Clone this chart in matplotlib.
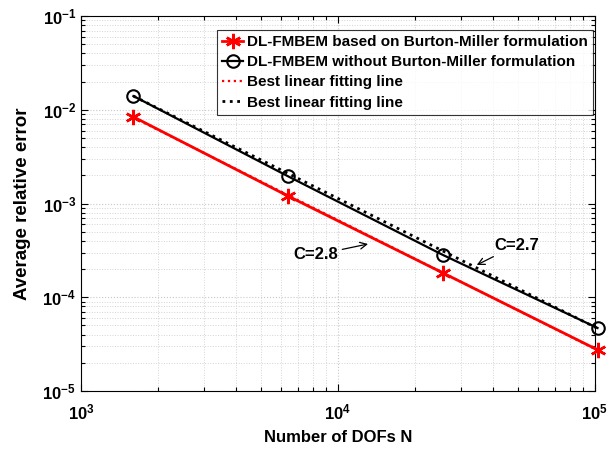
import numpy as np
import matplotlib
matplotlib.use("Agg")
import matplotlib.pyplot as plt
from matplotlib.ticker import LogLocator, NullFormatter

plt.rcParams['font.family'] = ['Liberation Sans', 'DejaVu Sans']
plt.rcParams['font.weight'] = 'bold'
plt.rcParams['mathtext.default'] = 'bf'

# Degrees of freedom and average relative errors
dofs = [1600, 6400, 25600, 102400]
err_bm = [8.4e-3, 1.2e-3, 1.82e-4, 2.75e-5]
err_no_bm = [1.40e-2, 1.95e-3, 2.83e-4, 4.7e-5]

label_bm = "DL-FMBEM based on Burton-Miller formulation"
label_no_bm = "DL-FMBEM without Burton-Miller formulation"
label_fit = "Best linear fitting line"

fig = plt.figure(figsize=(6.07, 4.51), dpi=100)
ax = fig.add_axes([0.1334, 0.133, 0.8466, 0.8315])

ax.set_xscale('log')
ax.set_yscale('log')
ax.set_xlim(1e3, 1e5)
ax.set_ylim(1e-5, 1e-1)

x = np.array(dofs, dtype=float)


def loglog_fit(xv, yv):
    p = np.polyfit(np.log10(xv), np.log10(yv), 1)
    return 10 ** np.polyval(p, np.log10(xv))


asterisk = (6, 2, 0)
ax.plot(dofs, err_bm, color='red', lw=2.0, marker=asterisk, ms=11, mew=1.8,
        label=label_bm, zorder=3, clip_on=False)
ax.plot(dofs, err_no_bm, color='black', lw=1.6, marker='o', ms=9,
        mfc='none', mew=1.5, label=label_no_bm, zorder=3, clip_on=False)
ax.plot(dofs, loglog_fit(x, err_bm), color='red', lw=1.6, ls=':',
        label=label_fit, zorder=4, clip_on=False)
ax.plot(dofs, loglog_fit(x, err_no_bm) * 1.04, color='black', lw=2.0,
        ls=':', label=label_fit, zorder=4, clip_on=False)

# Grid
ax.grid(True, which='major', color='#c8c8c8', ls=':', lw=0.8)
ax.grid(True, which='minor', color='#d4d4d4', ls=':', lw=0.7)
ax.set_axisbelow(True)

ax.xaxis.set_minor_locator(LogLocator(base=10, subs=np.arange(2, 10), numticks=20))
ax.yaxis.set_minor_locator(LogLocator(base=10, subs=np.arange(2, 10), numticks=20))
ax.xaxis.set_minor_formatter(NullFormatter())
ax.yaxis.set_minor_formatter(NullFormatter())
ax.tick_params(which='both', direction='in', top=True, right=True,
               labelsize=12, width=0.8)
ax.tick_params(which='major', length=5)
ax.tick_params(which='minor', length=3)
ax.tick_params(axis='x', pad=8)
for sp in ax.spines.values():
    sp.set_linewidth(0.8)

ax.set_xlabel("Number of DOFs N", fontsize=12, fontweight='bold', labelpad=6)
ax.set_ylabel("Average relative error", fontsize=13.5, fontweight='bold', labelpad=8)

# Convergence rate annotations
ax.annotate("C=2.8", xy=(1.31e4, 3.7e-4), xytext=(8.2e3, 2.83e-4),
            fontsize=12, fontweight='bold', ha='center', va='center',
            arrowprops=dict(arrowstyle='->', lw=0.9, color='black',
                            shrinkA=1, shrinkB=0))
ax.annotate("C=2.7", xy=(3.47e4, 2.21e-4), xytext=(4.95e4, 3.6e-4),
            fontsize=12, fontweight='bold', ha='center', va='center',
            arrowprops=dict(arrowstyle='->', lw=0.9, color='black',
                            shrinkA=2, shrinkB=0))

leg = ax.legend(loc='upper right', bbox_to_anchor=(0.997, 0.963),
                fontsize=11, frameon=True, fancybox=False, edgecolor='black',
                handlelength=1.4, handletextpad=0.25, borderpad=0.35,
                labelspacing=0.4, borderaxespad=0.0)
leg.get_frame().set_linewidth(0.8)
for t in leg.get_texts():
    t.set_fontweight('bold')

fig.savefig("out.png", dpi=100)
